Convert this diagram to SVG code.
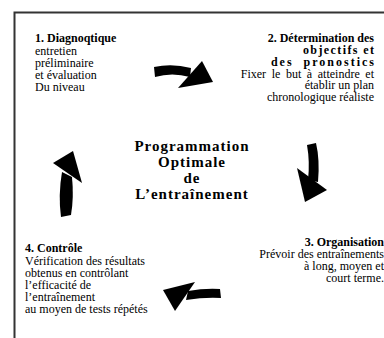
<svg xmlns="http://www.w3.org/2000/svg" width="384" height="338" viewBox="0 0 384 338">
<style>
.t{font-family:"Liberation Serif","Times New Roman",serif;font-size:12px;fill:#000;white-space:pre}
.b{font-weight:bold}
.r{text-anchor:end}
.c{font-family:"Liberation Serif","Times New Roman",serif;font-size:15px;font-weight:bold;text-anchor:middle;letter-spacing:1px;fill:#000}
.arrow{fill:#000;stroke:none}
</style>
<rect width="384" height="338" fill="#fff"/>
<path d="M14.5,338 V12.5 H384" fill="none" stroke="#333" stroke-width="2"/>
<g id="node1">
<text class="t b" x="35" y="42">1. Diagnoqtique</text>
<text class="t" x="35" y="55">entretien</text>
<text class="t" x="35" y="67">préliminaire</text>
<text class="t" x="35" y="79">et évaluation</text>
<text class="t" x="35" y="91">Du niveau</text>
</g>
<g id="node2">
<text class="t b r" x="374" y="42">2. Détermination des</text>
<text class="t b r" x="375.4" y="54" letter-spacing="1.4">objectifs et</text>
<text class="t b r" x="376" y="66" letter-spacing="2">des  pronostics</text>
<text class="t r" x="374" y="78" word-spacing="2.6">Fixer le but à atteindre et</text>
<text class="t r" x="374" y="89">établir un plan</text>
<text class="t r" x="374" y="101">chronologique réaliste</text>
</g>
<g id="node3">
<text class="t b r" x="384" y="246">3. Organisation</text>
<text class="t r" x="384" y="258">Prévoir des entraînements</text>
<text class="t r" x="384" y="270">à long, moyen et</text>
<text class="t r" x="384" y="282">court terme.</text>
</g>
<g id="node4">
<text class="t b" x="25" y="252">4. Contrôle</text>
<text class="t" x="25" y="265">Vérification des résultats</text>
<text class="t" x="25" y="277">obtenus en contrôlant</text>
<text class="t" x="25" y="289">l’efficacité de</text>
<text class="t" x="25" y="301">l’entraînement</text>
<text class="t" x="25" y="313">au moyen de tests répétés</text>
</g>
<g id="center">
<text class="c" x="192" y="151">Programmation</text>
<text class="c" x="192" y="167">Optimale</text>
<text class="c" x="192" y="183">de</text>
<text class="c" x="192" y="199">L’entraînement</text>
</g>
<g id="connectors">
<path class="arrow" d="M154,67 Q172,63 191,68 L190,77 Q172,72 155,77 Z"/>
<polygon class="arrow" points="202,61 213,82 178,88"/>
<path class="arrow" d="M307,145 L316,143 Q320,160 318,182 L308,180 Q310,162 307,145 Z"/>
<polygon class="arrow" points="297,168 327,190 305,202"/>
<path class="arrow" d="M220,289 Q205,288 188,291 L186,300 Q205,297 221,298 Z"/>
<polygon class="arrow" points="195,282 163,290 175,311"/>
<path class="arrow" d="M62,172 L72,177 Q74,197 71,215 L61,217 Q58,195 62,172 Z"/>
<polygon class="arrow" points="73,151 53,163 82,183"/>
</g>
</svg>
